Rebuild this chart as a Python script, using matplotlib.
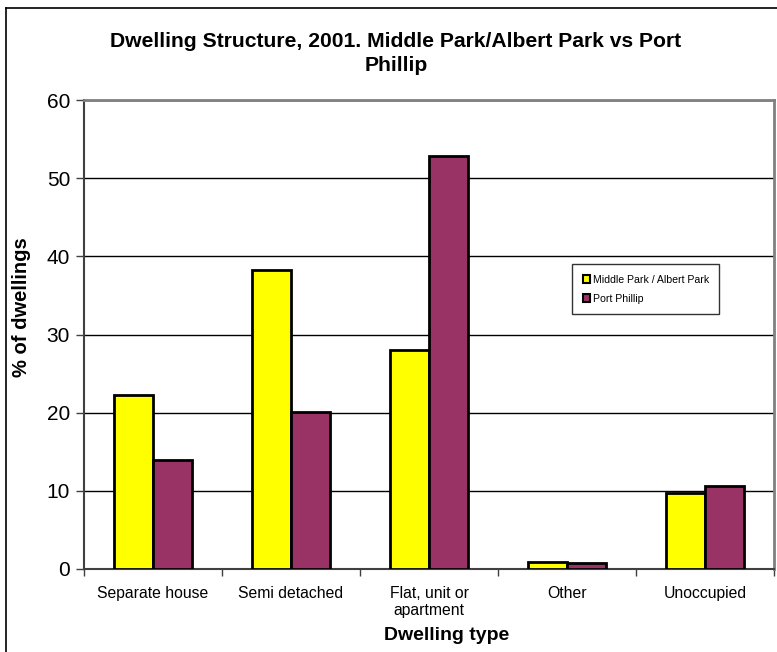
import matplotlib
matplotlib.use("Agg")
import matplotlib.pyplot as plt
import numpy as np
from matplotlib.lines import Line2D

plt.rcParams['font.family'] = ['Liberation Sans', 'DejaVu Sans']

categories = ["Separate house", "Semi detached", "Flat, unit or\napartment", "Other", "Unoccupied"]
series_names = ["Middle Park / Albert Park", "Port Phillip"]
middle_park = [22.2, 38.2, 28.0, 0.9, 9.7]
port_phillip = [13.9, 20.1, 52.8, 0.8, 10.6]
colors = ["#FFFF00", "#993366"]

W, H = 777, 652
fig = plt.figure(figsize=(W / 100, H / 100), dpi=100)

def fx(px):
    return px / W

def fy(py):
    return 1 - py / H

ax = fig.add_axes([fx(84), fy(569), fx(774) - fx(84), fy(100) - fy(569)])

x = np.arange(len(categories))
bw = 1 / 3.5
ax.bar(x - bw / 2, middle_park, bw, color=colors[0], edgecolor="black", linewidth=2, zorder=3, label=series_names[0])
ax.bar(x + bw / 2, port_phillip, bw, color=colors[1], edgecolor="black", linewidth=2, zorder=3, label=series_names[1])

ax.set_xlim(-0.5, len(categories) - 0.5)
ax.set_ylim(0, 60)
ax.set_yticks(np.arange(0, 61, 10))
ax.yaxis.grid(True, color="black", linewidth=1)
ax.set_axisbelow(True)
ax.tick_params(axis="y", labelsize=15, length=6, width=1, color="#404040", pad=4)

ax.set_xticks(x)
ax.set_xticklabels(categories, fontsize=11.3, linespacing=1.2, va="top")
ax.tick_params(axis="x", length=0, pad=12)
ax.set_xticks(np.arange(-0.5, len(categories)), minor=True)
ax.tick_params(axis="x", which="minor", length=5, width=1, color="#404040")

for s in ["top", "right"]:
    ax.spines[s].set_color("#808080")
    ax.spines[s].set_linewidth(2)
for s in ["left", "bottom"]:
    ax.spines[s].set_color("#404040")
    ax.spines[s].set_linewidth(1.5)

fig.text(fx(396), fy(53.5), "Dwelling Structure, 2001. Middle Park/Albert Park vs Port\nPhillip",
         ha="center", va="center", fontsize=15.2, fontweight="bold", linespacing=1.27)
fig.text(fx(22), fy(307), "% of dwellings", rotation=90, ha="center", va="center",
         fontsize=14.5, fontweight="bold")
fig.text(fx(447), fy(636), "Dwelling type", ha="center", va="center",
         fontsize=14, fontweight="bold")

leg = ax.legend(loc="upper left", bbox_to_anchor=(fx(572 - 84) / (fx(774) - fx(84)), (569 - 264) / (569 - 100)),
                fontsize=7.6, frameon=True, fancybox=False, edgecolor="black",
                handlelength=0.75, handleheight=0.75, handletextpad=0.2, borderpad=1.0,
                labelspacing=0.85, borderaxespad=0)
leg.get_frame().set_linewidth(1)
for h in leg.legend_handles:
    h.set_linewidth(1.5)

fig.add_artist(Line2D([fx(5.5), fx(5.5)], [fy(7.5), 0], color="black", linewidth=1.2, transform=fig.transFigure))
fig.add_artist(Line2D([fx(5.5), 1], [fy(7.5), fy(7.5)], color="black", linewidth=1.2, transform=fig.transFigure))

fig.savefig("out.png", dpi=100)
